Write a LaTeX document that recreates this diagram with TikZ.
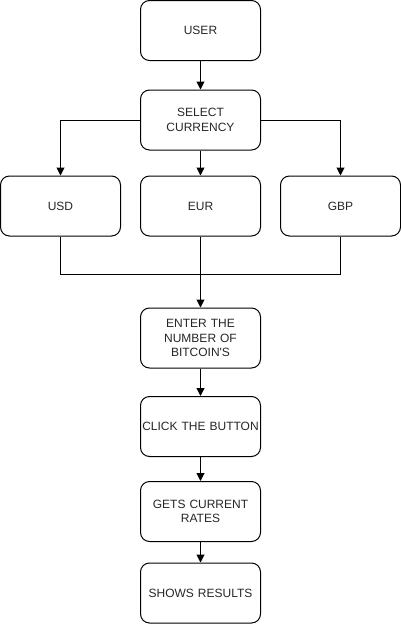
\documentclass[tikz,border=0pt]{standalone}
\usepackage{fontspec}
\setmainfont{Liberation Sans}
\usetikzlibrary{arrows.meta}
\begin{document}
\begin{tikzpicture}[x=1pt,y=-1pt,
  box/.style={draw, line width=1pt, rounded corners=9pt, minimum width=120pt, minimum height=60pt,
    inner sep=0pt, text width=118pt, align=center, font=\fontsize{12}{14.4}\selectfont, text=black!85},
  conn/.style={draw, line width=1pt},
  arr/.style={conn, -{Triangle[width=8pt,length=8pt]}}]
\useasboundingbox (0,0) rectangle (401,624);
\node[box] (user) at (200.5,30.5) {USER};
\node[box] (sel) at (200.5,120) {SELECT\\CURRENCY};
\node[box] (usd) at (60.5,206) {USD};
\node[box] (eur) at (200.5,206) {EUR};
\node[box] (gbp) at (340.5,206) {GBP};
\node[box] (ent) at (200.5,338) {ENTER THE\\NUMBER OF\\BITCOIN\textquotesingle S};
\node[box] (clk) at (200.5,426.5) {CLICK THE BUTTON};
\node[box] (get) at (200.5,511.5) {GETS CURRENT\\RATES};
\node[box] (shw) at (200.5,593) {SHOWS RESULTS};
\coordinate (m) at (200.5,274);
\draw[arr] (user) -- (sel);
\draw[arr] (sel.west) -| (usd.north);
\draw[arr] (sel.east) -| (gbp.north);
\draw[arr] (sel) -- (eur);
\draw[conn] (usd.south) |- (m);
\draw[conn] (gbp.south) |- (m);
\draw[arr] (eur) -- (ent);
\draw[arr] (ent) -- (clk);
\draw[arr] (clk) -- (get);
\draw[arr] (get) -- (shw);
\end{tikzpicture}
\end{document}
